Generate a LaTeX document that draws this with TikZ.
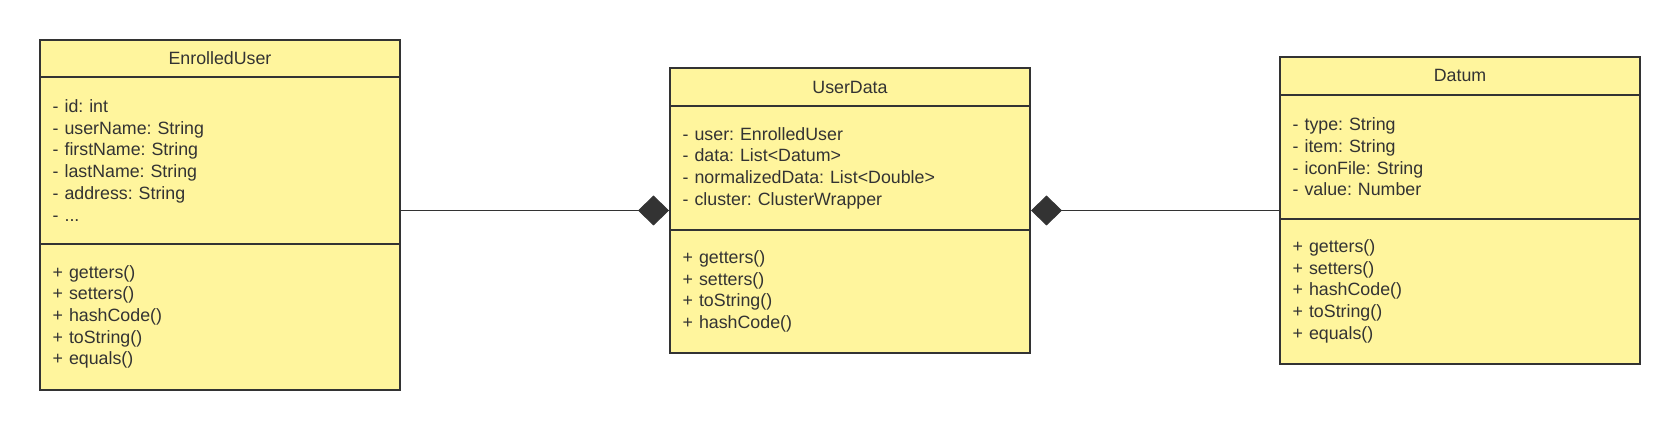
\documentclass[tikz,border=0pt]{standalone}
\usepackage{fontspec}
\setmainfont{Liberation Sans}
\frenchspacing
\usetikzlibrary{arrows.meta}
\definecolor{umlfill}{HTML}{FFF59D}
\definecolor{umlline}{HTML}{333333}
\tikzset{
	classtitle/.style={draw=umlline, fill=umlfill, line width=2pt, minimum width=360pt, inner sep=0pt, text=umlline},
	classpart/.style={draw=umlline, fill=umlfill, line width=2pt, minimum width=360pt, text width=334.6pt, inner xsep=12.7pt, inner ysep=0pt, align=left, text=umlline},
	compo/.style={draw=umlline, line width=1pt, -{Diamond[length=31pt,width=30pt]}}
}
\begin{document}
\begin{tikzpicture}[x=1pt, y=-1pt, font=\fontsize{17.8pt}{21.7pt}\selectfont]
	
		%%Frame
		\useasboundingbox (0,0) rectangle (1680,430);
		
		%%EnrolledUser
		\node[classtitle, minimum height=36.7pt] (eu-title) at (220,58.35) {EnrolledUser};
		\node[classpart, minimum height=167.3pt] (eu-attr) at (220,160.35) {- id: int\\- userName: String\\- firstName: String\\- lastName: String\\- address: String\\- ...};
		\node[classpart, minimum height=145.7pt] (eu-meth) at (220,316.85) {+ getters()\\+ setters()\\+ hashCode()\\+ toString()\\+ equals()};
		
		%%UserData
		\node[classtitle, minimum height=38pt] (ud-title) at (850,87) {UserData};
		\node[classpart, minimum height=124pt] (ud-attr) at (850,168) {- user: EnrolledUser\\- data: List<Datum>\\- normalizedData: List<Double>\\- cluster: ClusterWrapper};
		\node[classpart, minimum height=122.7pt] (ud-meth) at (850,291.35) {+ getters()\\+ setters()\\+ toString()\\+ hashCode()};
		
		%%Datum
		\node[classtitle, minimum height=38pt] (dt-title) at (1460,75.7) {Datum};
		\node[classpart, minimum height=124.3pt] (dt-attr) at (1460,156.85) {- type: String\\- item: String\\- iconFile: String\\- value: Number};
		\node[classpart, minimum height=144.7pt] (dt-meth) at (1460,291.35) {+ getters()\\+ setters()\\+ hashCode()\\+ toString()\\+ equals()};
		
		%%Links
		\coordinate (link) at (850,210.5);
		\draw[compo] (eu-attr.east |- link) -- (ud-attr.west |- link);
		\draw[compo] (dt-attr.west |- link) -- (ud-attr.east |- link);
		
	\end{tikzpicture}
\end{document}
